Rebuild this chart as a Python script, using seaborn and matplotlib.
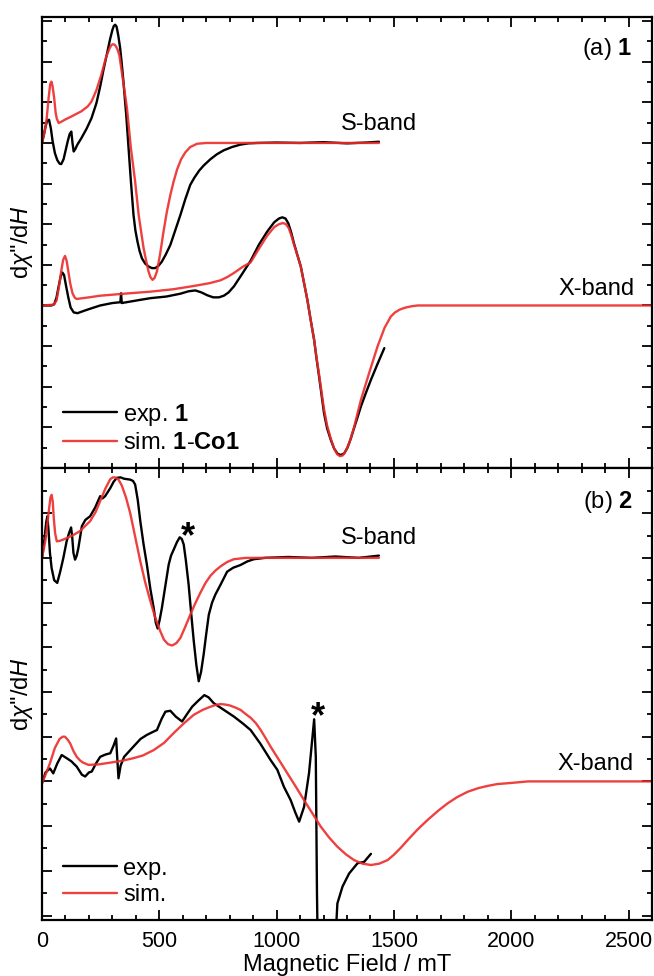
import numpy as np
import pandas as pd
import matplotlib
matplotlib.use("Agg")
import matplotlib.pyplot as plt
from matplotlib.ticker import MultipleLocator, NullFormatter
from matplotlib.lines import Line2D
import seaborn as sns

# ---- data (field in mT, signal in arbitrary units) ----
# panel (a): compound 1, S-band
a_s_exp_x = [0, 8, 15, 22, 30, 38, 45, 55, 65, 75, 82, 92, 100, 110, 118, 125, 130, 135, 142, 150, 168, 190,
             211, 232, 248, 262, 276, 290, 300, 306, 312, 318, 325, 333, 340, 347, 353, 359, 369, 379, 390,
             398, 407, 416, 426, 440, 454, 468, 483, 497, 511, 528, 547, 568, 590, 611, 632, 650, 670, 690,
             718, 745, 775, 810, 846, 880, 918, 1000, 1100, 1200, 1300, 1380, 1436]
a_s_exp_y = [8.0, 8.2, 8.4, 8.55, 8.57, 8.35, 8.05, 7.75, 7.58, 7.49, 7.48, 7.6, 7.8, 8.05, 8.22, 8.28, 8.0,
             7.79, 7.85, 7.95, 8.12, 8.35, 8.61, 8.98, 9.39, 9.8, 10.17, 10.55, 10.78, 10.88, 10.91, 10.86,
             10.65, 10.34, 9.95, 9.52, 9.1, 8.69, 7.87, 7.05, 6.23, 5.85, 5.57, 5.34, 5.16, 5.03, 4.96, 4.92,
             4.92, 4.98, 5.08, 5.26, 5.49, 5.85, 6.23, 6.62, 6.97, 7.15, 7.32, 7.45, 7.6, 7.72, 7.82, 7.9,
             7.96, 7.99, 8.0, 8.01, 8.0, 8.02, 7.99, 8.01, 8.03]
a_s_sim_x = [0, 12, 20, 28, 35, 40, 45, 52, 58, 63, 71, 85, 100, 125, 168, 195, 211, 232, 253, 274, 289, 296,
             302, 309, 315, 322, 330, 340, 350, 362, 379, 397, 412, 423, 433, 444, 454, 462, 471, 480, 490,
             503, 518, 532, 547, 561, 576, 593, 611, 632, 661, 700, 800, 1000, 1200, 1436]
a_s_sim_y = [8.0, 8.3, 8.6, 9.1, 9.45, 9.51, 9.4, 9.1, 8.75, 8.6, 8.49, 8.53, 8.58, 8.65, 8.78, 8.9, 9.02,
             9.3, 9.68, 10.13, 10.34, 10.41, 10.43, 10.42, 10.38, 10.3, 10.15, 9.75, 9.35, 8.86, 7.87, 7.05,
             6.23, 5.8, 5.41, 5.1, 4.84, 4.7, 4.63, 4.68, 4.84, 5.25, 5.82, 6.3, 6.72, 7.05, 7.35, 7.6, 7.77,
             7.9, 7.98, 8.0, 8.0, 8.0, 8.0, 8.0]

# panel (a): compound 1, X-band
a_x_exp_x = [0, 40, 52, 62, 72, 80, 87, 94, 102, 112, 122, 135, 151, 170, 200, 248, 300, 334, 337, 340, 400,
             462, 530, 590, 625, 654, 680, 705, 730, 754, 775, 795, 818, 850, 889, 925, 960, 990, 1010, 1024,
             1038, 1050, 1062, 1074, 1088, 1103, 1117, 1131, 1145, 1160, 1170, 1181, 1192, 1202, 1215, 1231,
             1245, 1260, 1274, 1288, 1302, 1316, 1330, 1345, 1359, 1380, 1402, 1430, 1459]
a_x_exp_y = [4.0, 4.0, 4.03, 4.2, 4.5, 4.72, 4.81, 4.75, 4.5, 4.2, 3.95, 3.83, 3.81, 3.85, 3.91, 4.0, 4.06,
             4.08, 4.3, 4.06, 4.12, 4.18, 4.22, 4.29, 4.35, 4.37, 4.32, 4.25, 4.2, 4.2, 4.24, 4.32, 4.47, 4.75,
             5.1, 5.5, 5.82, 6.05, 6.14, 6.17, 6.14, 6.02, 5.8, 5.53, 5.25, 4.96, 4.55, 4.14, 3.65, 3.15, 2.7,
             2.25, 1.78, 1.35, 0.98, 0.69, 0.48, 0.35, 0.32, 0.36, 0.5, 0.72, 0.98, 1.25, 1.51, 1.84, 2.17,
             2.56, 2.95]
a_x_sim_x = [0, 50, 62, 72, 82, 90, 98, 105, 112, 120, 130, 140, 148, 200, 248, 350, 462, 560, 647, 715, 761,
             790, 818, 855, 889, 925, 960, 990, 1010, 1027, 1040, 1052, 1063, 1074, 1088, 1103, 1117, 1131,
             1145, 1160, 1170, 1181, 1192, 1202, 1215, 1231, 1245, 1258, 1270, 1282, 1295, 1310, 1330, 1359,
             1395, 1430, 1460, 1487, 1505, 1525, 1550, 1575, 1601, 1700, 2000, 2600]
a_x_sim_y = [4.0, 4.02, 4.12, 4.45, 4.85, 5.12, 5.22, 5.1, 4.85, 4.55, 4.3, 4.19, 4.16, 4.2, 4.24, 4.29, 4.34,
             4.4, 4.48, 4.55, 4.62, 4.7, 4.8, 4.95, 5.06, 5.4, 5.72, 5.93, 6.0, 6.03, 6.0, 5.9, 5.72, 5.5,
             5.25, 4.96, 4.55, 4.14, 3.65, 3.15, 2.72, 2.3, 1.85, 1.45, 1.05, 0.72, 0.48, 0.34, 0.29, 0.31,
             0.42, 0.62, 1.0, 1.67, 2.35, 2.99, 3.45, 3.73, 3.83, 3.9, 3.95, 3.98, 4.0, 4.0, 4.0, 4.0]

# panel (b): compound 2, S-band
b_s_exp_x = [0, 10, 18, 23, 28, 34, 41, 52, 65, 78, 91, 105, 115, 124, 129, 134, 141, 148, 155, 170, 185,
             205, 226, 248, 258, 269, 291, 305, 319, 335, 350, 376, 388, 397, 408, 419, 433, 447, 462, 476,
             485, 493, 501, 511, 525, 540, 550, 561, 575, 587, 596, 604, 613, 625, 636, 647, 658, 668, 678,
             689, 700, 711, 725, 739, 761, 789, 815, 846, 875, 903, 950, 1050, 1150, 1250, 1350, 1436]
b_s_exp_y = [8.0, 8.4, 8.8, 8.93, 8.6, 8.1, 7.77, 7.5, 7.44, 7.7, 8.0, 8.37, 8.55, 8.68, 8.45, 8.11, 7.96,
             8.05, 8.22, 8.71, 8.85, 8.93, 9.12, 9.38, 9.33, 9.38, 9.56, 9.7, 9.79, 9.8, 9.77, 9.75, 9.72,
             9.64, 9.3, 8.82, 8.3, 7.85, 7.3, 6.88, 6.55, 6.42, 6.6, 6.88, 7.35, 7.85, 8.05, 8.18, 8.35, 8.46,
             8.42, 8.3, 7.95, 7.4, 6.75, 6.13, 5.6, 5.24, 5.45, 5.84, 6.3, 6.73, 7.0, 7.18, 7.4, 7.69, 7.78,
             7.84, 7.92, 7.97, 8.0, 8.02, 8.0, 8.03, 8.0, 8.05]
b_s_sim_x = [0, 15, 28, 36, 41, 46, 50, 56, 63, 75, 91, 130, 162, 205, 228, 248, 270, 291, 302, 312, 325,
             340, 358, 376, 398, 419, 440, 462, 483, 504, 520, 537, 554, 572, 590, 610, 632, 654, 675, 697,
             718, 740, 761, 790, 818, 870, 1000, 1200, 1436]
b_s_sim_y = [8.0, 8.4, 9.0, 9.35, 9.41, 9.25, 8.9, 8.55, 8.37, 8.38, 8.41, 8.5, 8.6, 8.82, 9.02, 9.27, 9.55,
             9.76, 9.8, 9.8, 9.76, 9.62, 9.35, 9.0, 8.45, 7.92, 7.45, 7.03, 6.66, 6.36, 6.17, 6.07, 6.04,
             6.09, 6.21, 6.45, 6.73, 6.99, 7.22, 7.44, 7.6, 7.72, 7.81, 7.91, 7.97, 8.0, 8.0, 8.0, 8.0]

# panel (b): compound 2, X-band
b_x_exp_x = [0, 15, 34, 48, 65, 84, 105, 125, 148, 170, 184, 200, 212, 230, 248, 270, 291, 305, 316, 321,
             326, 335, 350, 390, 420, 447, 470, 490, 510, 526, 547, 570, 597, 620, 640, 665, 692, 710, 732,
             775, 818, 855, 889, 930, 974, 1003, 1031, 1060, 1080, 1096, 1117, 1138, 1160, 1167, 1172, 1176,
             1246, 1259, 1281, 1309, 1345, 1373, 1402]
b_x_exp_y = [2.96, 3.2, 3.29, 3.18, 3.4, 3.59, 3.52, 3.45, 3.33, 3.15, 3.11, 3.2, 3.22, 3.4, 3.55, 3.6, 3.63,
             3.8, 3.96, 3.5, 3.07, 3.35, 3.55, 3.78, 3.95, 4.04, 4.1, 4.15, 4.4, 4.56, 4.58, 4.45, 4.34, 4.52,
             4.67, 4.8, 4.93, 4.88, 4.75, 4.6, 4.45, 4.3, 4.15, 3.85, 3.48, 3.26, 2.88, 2.58, 2.3, 2.1, 2.43,
             3.18, 4.39, 3.55, 0.5, -1.0, -1.0, 0.27, 0.65, 0.94, 1.17, 1.2, 1.38]
b_x_sim_x = [0, 15, 34, 55, 75, 88, 98, 110, 120, 134, 148, 162, 175, 198, 240, 291, 340, 390, 430, 476, 520,
             561, 605, 647, 685, 718, 740, 761, 780, 800, 825, 846, 870, 890, 912, 932, 953, 974, 1010, 1046,
             1082, 1117, 1152, 1188, 1223, 1259, 1295, 1330, 1366, 1402, 1437, 1473, 1500, 1530, 1559, 1600,
             1644, 1690, 1729, 1770, 1815, 1860, 1900, 1940, 1986, 2030, 2072, 2300, 2600]
b_x_sim_y = [2.96, 3.15, 3.41, 3.75, 3.95, 4.0, 4.0, 3.93, 3.85, 3.68, 3.55, 3.47, 3.42, 3.37, 3.38, 3.42,
             3.46, 3.52, 3.58, 3.7, 3.86, 4.08, 4.3, 4.49, 4.6, 4.67, 4.71, 4.73, 4.72, 4.7, 4.65, 4.6, 4.5,
             4.42, 4.3, 4.15, 3.97, 3.78, 3.48, 3.18, 2.88, 2.58, 2.29, 1.99, 1.75, 1.54, 1.37, 1.24, 1.16,
             1.13, 1.16, 1.24, 1.36, 1.52, 1.69, 1.92, 2.14, 2.35, 2.51, 2.65, 2.77, 2.85, 2.9, 2.94, 2.96,
             2.98, 3.0, 3.0, 3.0]

exp_color = "black"
sim_color = "#ee2b2b"

sns.set_style("ticks")
plt.rcParams["font.family"] = ["Liberation Sans", "DejaVu Sans"]
plt.rcParams["mathtext.fontset"] = "custom"
plt.rcParams["mathtext.rm"] = "Liberation Sans"
plt.rcParams["mathtext.it"] = "Liberation Sans:italic"
plt.rcParams["mathtext.bf"] = "Liberation Sans:bold"
for key in ["text.color", "axes.labelcolor", "xtick.color", "ytick.color", "axes.edgecolor"]:
    plt.rcParams[key] = "black"

fig = plt.figure(figsize=(6.54, 9.76), dpi=100)
ax_a = fig.add_axes([42 / 654, 1 - 468 / 976, 610 / 654, 451 / 976])
ax_b = fig.add_axes([42 / 654, 1 - 920 / 976, 610 / 654, 452 / 976])


def draw(ax, x, y, color):
    df = pd.DataFrame({"field": x, "signal": y})
    sns.lineplot(data=df, x="field", y="signal", ax=ax, color=color, linewidth=1.7,
                 estimator=None, sort=False, alpha=0.9 if color != exp_color else 1.0)


draw(ax_a, a_s_exp_x, a_s_exp_y, exp_color)
draw(ax_a, a_x_exp_x, a_x_exp_y, exp_color)
draw(ax_a, a_s_sim_x, a_s_sim_y, sim_color)
draw(ax_a, a_x_sim_x, a_x_sim_y, sim_color)

draw(ax_b, b_s_exp_x, b_s_exp_y, exp_color)
draw(ax_b, b_x_exp_x, b_x_exp_y, exp_color)
draw(ax_b, b_s_sim_x, b_s_sim_y, sim_color)
draw(ax_b, b_x_sim_x, b_x_sim_y, sim_color)

ax_a.set_ylim(0, 11.1)
ax_b.set_ylim(-0.1, 10.01)

for ax in (ax_a, ax_b):
    ax.set_xlim(0, 2600)
    ax.xaxis.set_major_locator(MultipleLocator(500))
    ax.xaxis.set_minor_locator(MultipleLocator(100))
    ax.yaxis.set_major_locator(MultipleLocator(1))
    ax.yaxis.set_minor_locator(MultipleLocator(0.5))
    ax.yaxis.set_major_formatter(NullFormatter())
    ax.tick_params(which="both", direction="in", top=True, right=True, width=1.3)
    ax.tick_params(which="major", length=7)
    ax.tick_params(which="minor", length=3.5)
    ax.tick_params(axis="x", labelsize=15.5, pad=8)
    for s in ax.spines.values():
        s.set_linewidth(1.6)
    ax.set_ylabel("d$\\chi$''/d$H$", fontsize=17)
    ax.yaxis.set_label_coords(-0.012, 0.5)
    ax.set_xlabel("")

ax_a.xaxis.set_major_formatter(NullFormatter())
ax_b.set_xlabel("Magnetic Field / mT", fontsize=17, labelpad=1)

txt = dict(fontsize=17)
ax_a.text(2513, 10.17, "(a) $\\mathbf{1}$", ha="right", va="baseline", **txt)
ax_a.text(1274, 8.31, "S-band", ha="left", va="baseline", **txt)
ax_a.text(2525, 4.26, "X-band", ha="right", va="baseline", **txt)
ax_b.text(2518, 9.11, "(b) $\\mathbf{2}$", ha="right", va="baseline", **txt)
ax_b.text(1274, 8.31, "S-band", ha="left", va="baseline", **txt)
ax_b.text(2521, 3.26, "X-band", ha="right", va="baseline", **txt)
ax_b.text(620, 8.85, "*", ha="center", va="top", fontsize=26, fontweight="bold")
ax_b.text(1174, 4.82, "*", ha="center", va="top", fontsize=26, fontweight="bold")

leg_kw = dict(loc="lower left", frameon=False, fontsize=17, handlelength=2.3, handletextpad=0.25,
              labelspacing=0.2, borderpad=0, borderaxespad=0)
ax_a.legend(handles=[Line2D([], [], color=exp_color, lw=1.7),
                     Line2D([], [], color=sim_color, lw=1.7, alpha=0.9)],
            labels=["exp. $\\mathbf{1}$", "sim. $\\mathbf{1}$-$\\mathbf{Co1}$"],
            bbox_to_anchor=(0.034, 0.03), **leg_kw)
ax_b.legend(handles=[Line2D([], [], color=exp_color, lw=1.7),
                     Line2D([], [], color=sim_color, lw=1.7, alpha=0.9)],
            labels=["exp.", "sim."],
            bbox_to_anchor=(0.034, 0.03), **leg_kw)

fig.savefig("out.png", dpi=100)
